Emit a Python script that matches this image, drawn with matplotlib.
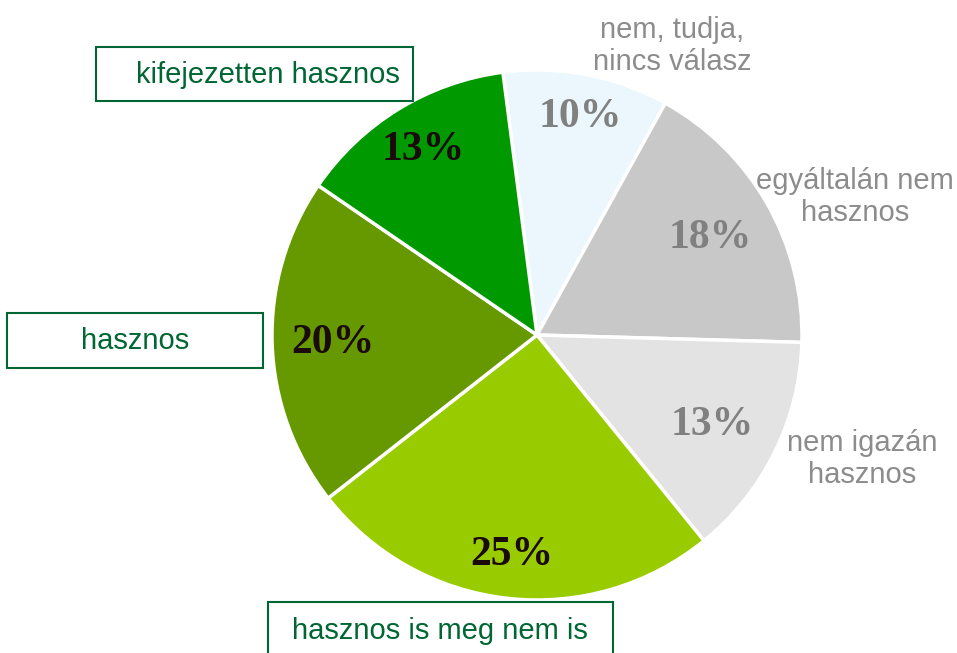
import matplotlib.pyplot as plt
from matplotlib.patches import Rectangle

# slices clockwise, starting at the top
categories = ["nem, tudja,\nnincs válasz", "egyáltalán nem\nhasznos", "nem igazán\nhasznos",
              "hasznos is meg nem is", "hasznos", "kifejezetten hasznos"]
shares = [10.1, 17.4, 13.7, 25.3, 20.1, 13.4]
pct_labels = ["10%", "18%", "13%", "25%", "20%", "13%"]

colors = ["#EBF7FD", "#C8C8C8", "#E3E3E3", "#99CC00", "#669900", "#009900"]
pct_colors = ["#808080", "#808080", "#808080", "#1a0a0a", "#1a0a0a", "#1a0a0a"]

W, H = 957, 653
fig = plt.figure(figsize=(W / 100, H / 100), dpi=100)
ax = fig.add_axes([0, 0, 1, 1])

cx, cy, r = 537, H - 335, 265
wedges, _ = ax.pie(shares, colors=colors, startangle=97.4, counterclock=False,
                   center=(cx, cy), radius=r,
                   wedgeprops=dict(edgecolor="white", linewidth=2.5))
ax.set_xlim(0, W)
ax.set_ylim(0, H)
ax.set_aspect("equal")
ax.axis("off")

# percentage labels (pixel positions from the top)
pct_pos = [(580, 117), (710, 238), (712, 425), (512, 555), (333, 343), (423, 150)]
for (x, y), lab, c in zip(pct_pos, pct_labels, pct_colors):
    ax.text(x, H - y, lab, ha="center", va="center", fontsize=30, fontweight="bold",
            family="Liberation Serif", color=c)

green = "#006633"
grey = "#8c8c8c"
# boxed labels: (x0, y0_top, x1, y1_bottom)
boxes = {"kifejezetten hasznos": (96, 47, 413, 101),
         "hasznos": (7, 313, 263, 368),
         "hasznos is meg nem is": (268, 602, 613, 660)}
text_pos = {"kifejezetten hasznos": (268, 75),
            "hasznos": (135, 341),
            "hasznos is meg nem is": (440, 631),
            "nem, tudja,\nnincs válasz": (672, 46),
            "egyáltalán nem\nhasznos": (855, 197),
            "nem igazán\nhasznos": (862, 459)}

for cat in categories:
    x, y = text_pos[cat]
    if cat in boxes:
        x0, y0, x1, y1 = boxes[cat]
        ax.add_patch(Rectangle((x0, H - y1), x1 - x0, y1 - y0, fill=False,
                               edgecolor=green, linewidth=1.5, clip_on=False))
        col = green
    else:
        col = grey
    ax.text(x, H - y, cat, ha="center", va="center", fontsize=21,
            family="Liberation Sans", color=col, linespacing=1.15)

fig.savefig("out.png", dpi=100)
